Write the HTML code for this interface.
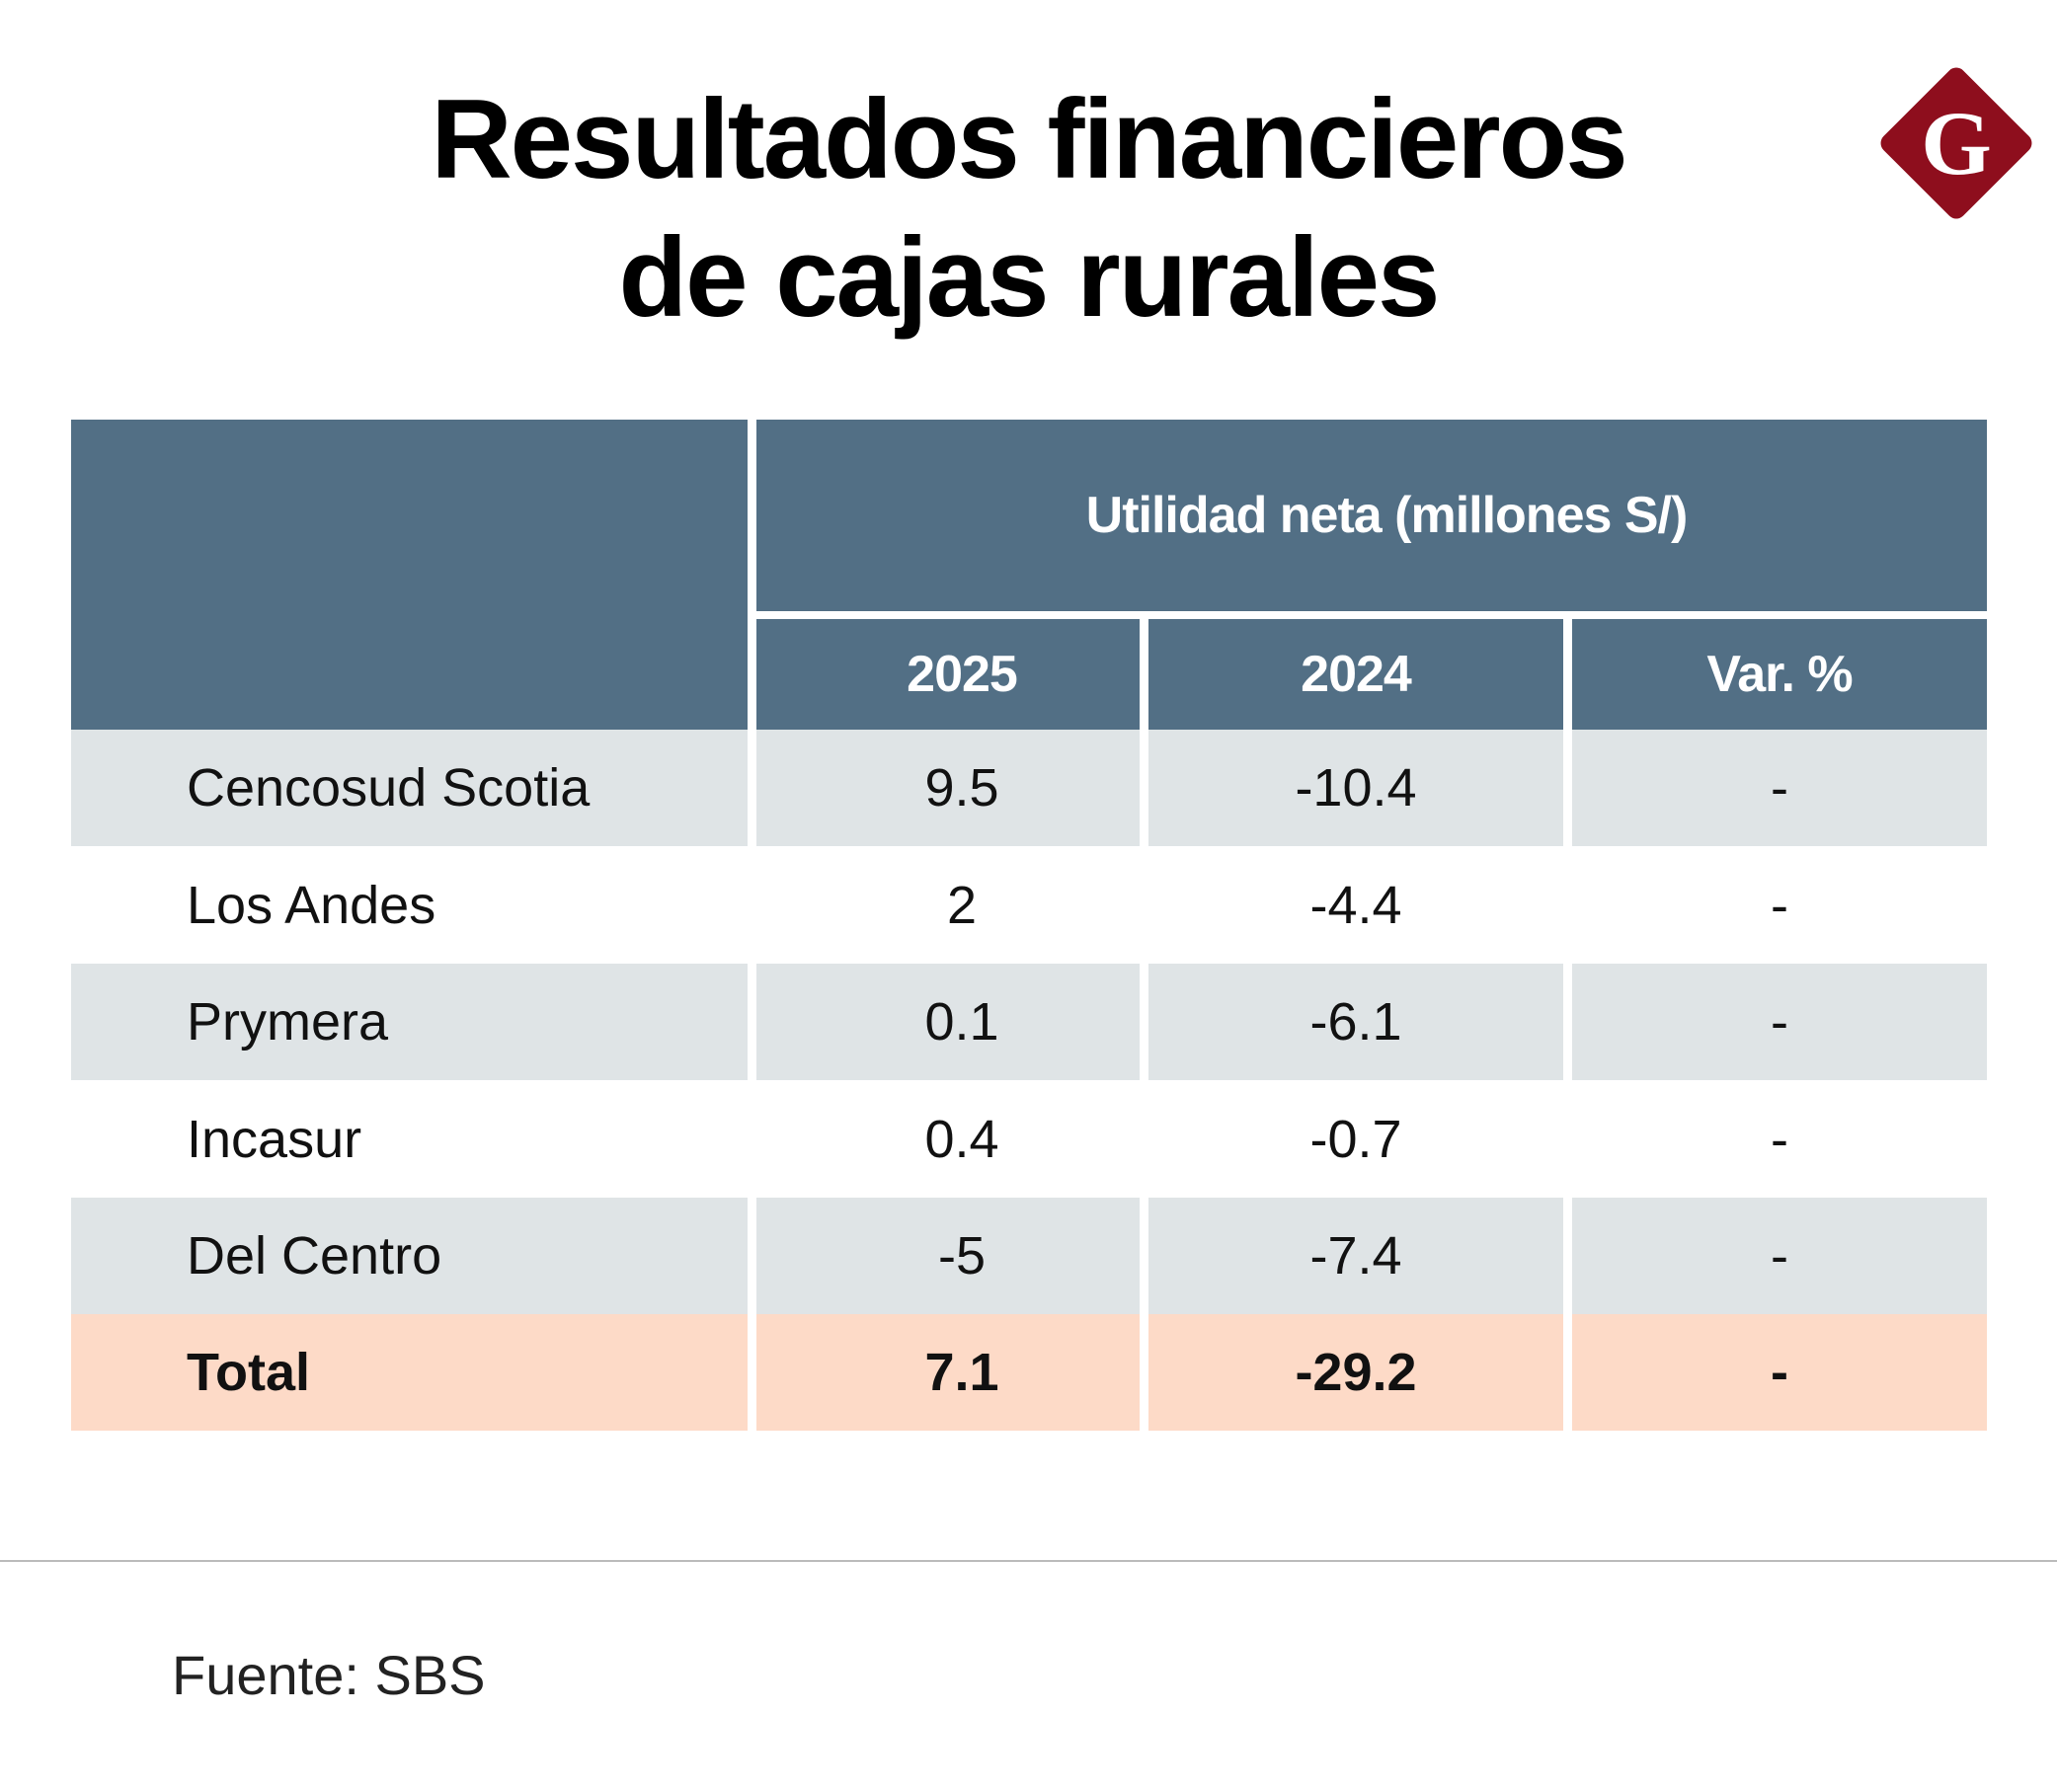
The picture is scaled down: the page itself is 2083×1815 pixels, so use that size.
<!DOCTYPE html>
<html><head><meta charset="utf-8">
<style>
body{margin:0;width:2083px;height:1815px;background:#fff;position:relative;overflow:hidden;font-family:"Liberation Sans",sans-serif;}
.a{position:absolute;box-sizing:border-box;display:flex;align-items:center;}
.c{justify-content:center;}
.h{background:#526f85;color:#fff;font-weight:bold;font-size:52px;letter-spacing:-1px;}
.g{background:#dfe4e6;}
.t{background:#fddac7;font-weight:bold;}
.d{font-size:54px;color:#111;}
</style></head><body>
<div style="position:absolute;left:0;width:2083px;top:72px;text-align:center;font-weight:bold;font-size:114px;line-height:140px;letter-spacing:-2px;color:#000;">Resultados financieros<br>de cajas rurales</div>
<svg style="position:absolute;left:1896px;top:60px" width="170" height="170" viewBox="0 0 170 170">
<rect x="28" y="28" width="114" height="114" rx="10" transform="rotate(45 85 85)" fill="#8e0e1d"/>
<text x="85" y="116" text-anchor="middle" font-family="Liberation Serif,serif" font-weight="bold" font-size="92" fill="#fff">G</text></svg>
<div id="tbl"></div>
<div style="position:absolute;left:0;top:1580px;width:2083px;height:2px;background:#bbb"></div>
<div style="position:absolute;left:174px;top:1664px;font-size:56px;color:#222">Fuente: SBS</div>
<script>
const names=["Cencosud Scotia","Los Andes","Prymera","Incasur","Del Centro","Total"];
const v2025=["9.5","2","0.1","0.4","-5","7.1"];
const v2024=["-10.4","-4.4","-6.1","-0.7","-7.4","-29.2"];
const vvar=["-","-","-","-","-","-"];
const cols=[[72,757],[766,1154],[1163,1583],[1592,2012]];
const body=document.body;
function cell(x1,y1,x2,y2,cls,txt,name,left,pad){
 const d=document.createElement('div');
 d.className='a '+cls+(left?'':' c');
 d.style.left=x1+'px';d.style.top=y1+'px';d.style.width=(x2-x1)+'px';d.style.height=(y2-y1)+'px';
 if(left)d.style.paddingLeft='117px';
 if(pad)d.style.paddingLeft=pad+'px';
 d.textContent=txt;
 
 
 body.appendChild(d);
}
cell(72,425,757,739,'h','','header-blank');
cell(766,425,2012,619,'h','Utilidad neta (millones S/)','header-utilidad-neta',false,30);
cell(766,627,1154,739,'h','2025','header-2025',false,28);
cell(1163,627,1583,739,'h','2024','header-2024');
cell(1592,627,2012,739,'h','Var. %','header-var');
const top0=739,rh=118.4;
for(let i=0;i<names.length;i++){
 const y1=Math.round(top0+i*rh),y2=Math.round(top0+(i+1)*rh);
 const cls='d '+(i==5?'t':(i%2==0?'g':''));
 cell(cols[0][0],y1,cols[0][1],y2,cls,names[i],'row-name',true);
 cell(cols[1][0],y1,cols[1][1],y2,cls,v2025[i],'value-2025',false,28);
 cell(cols[2][0],y1,cols[2][1],y2,cls,v2024[i],'value-2024');
 cell(cols[3][0],y1,cols[3][1],y2,cls,vvar[i],'value-var');
}
</script>
</body></html>
